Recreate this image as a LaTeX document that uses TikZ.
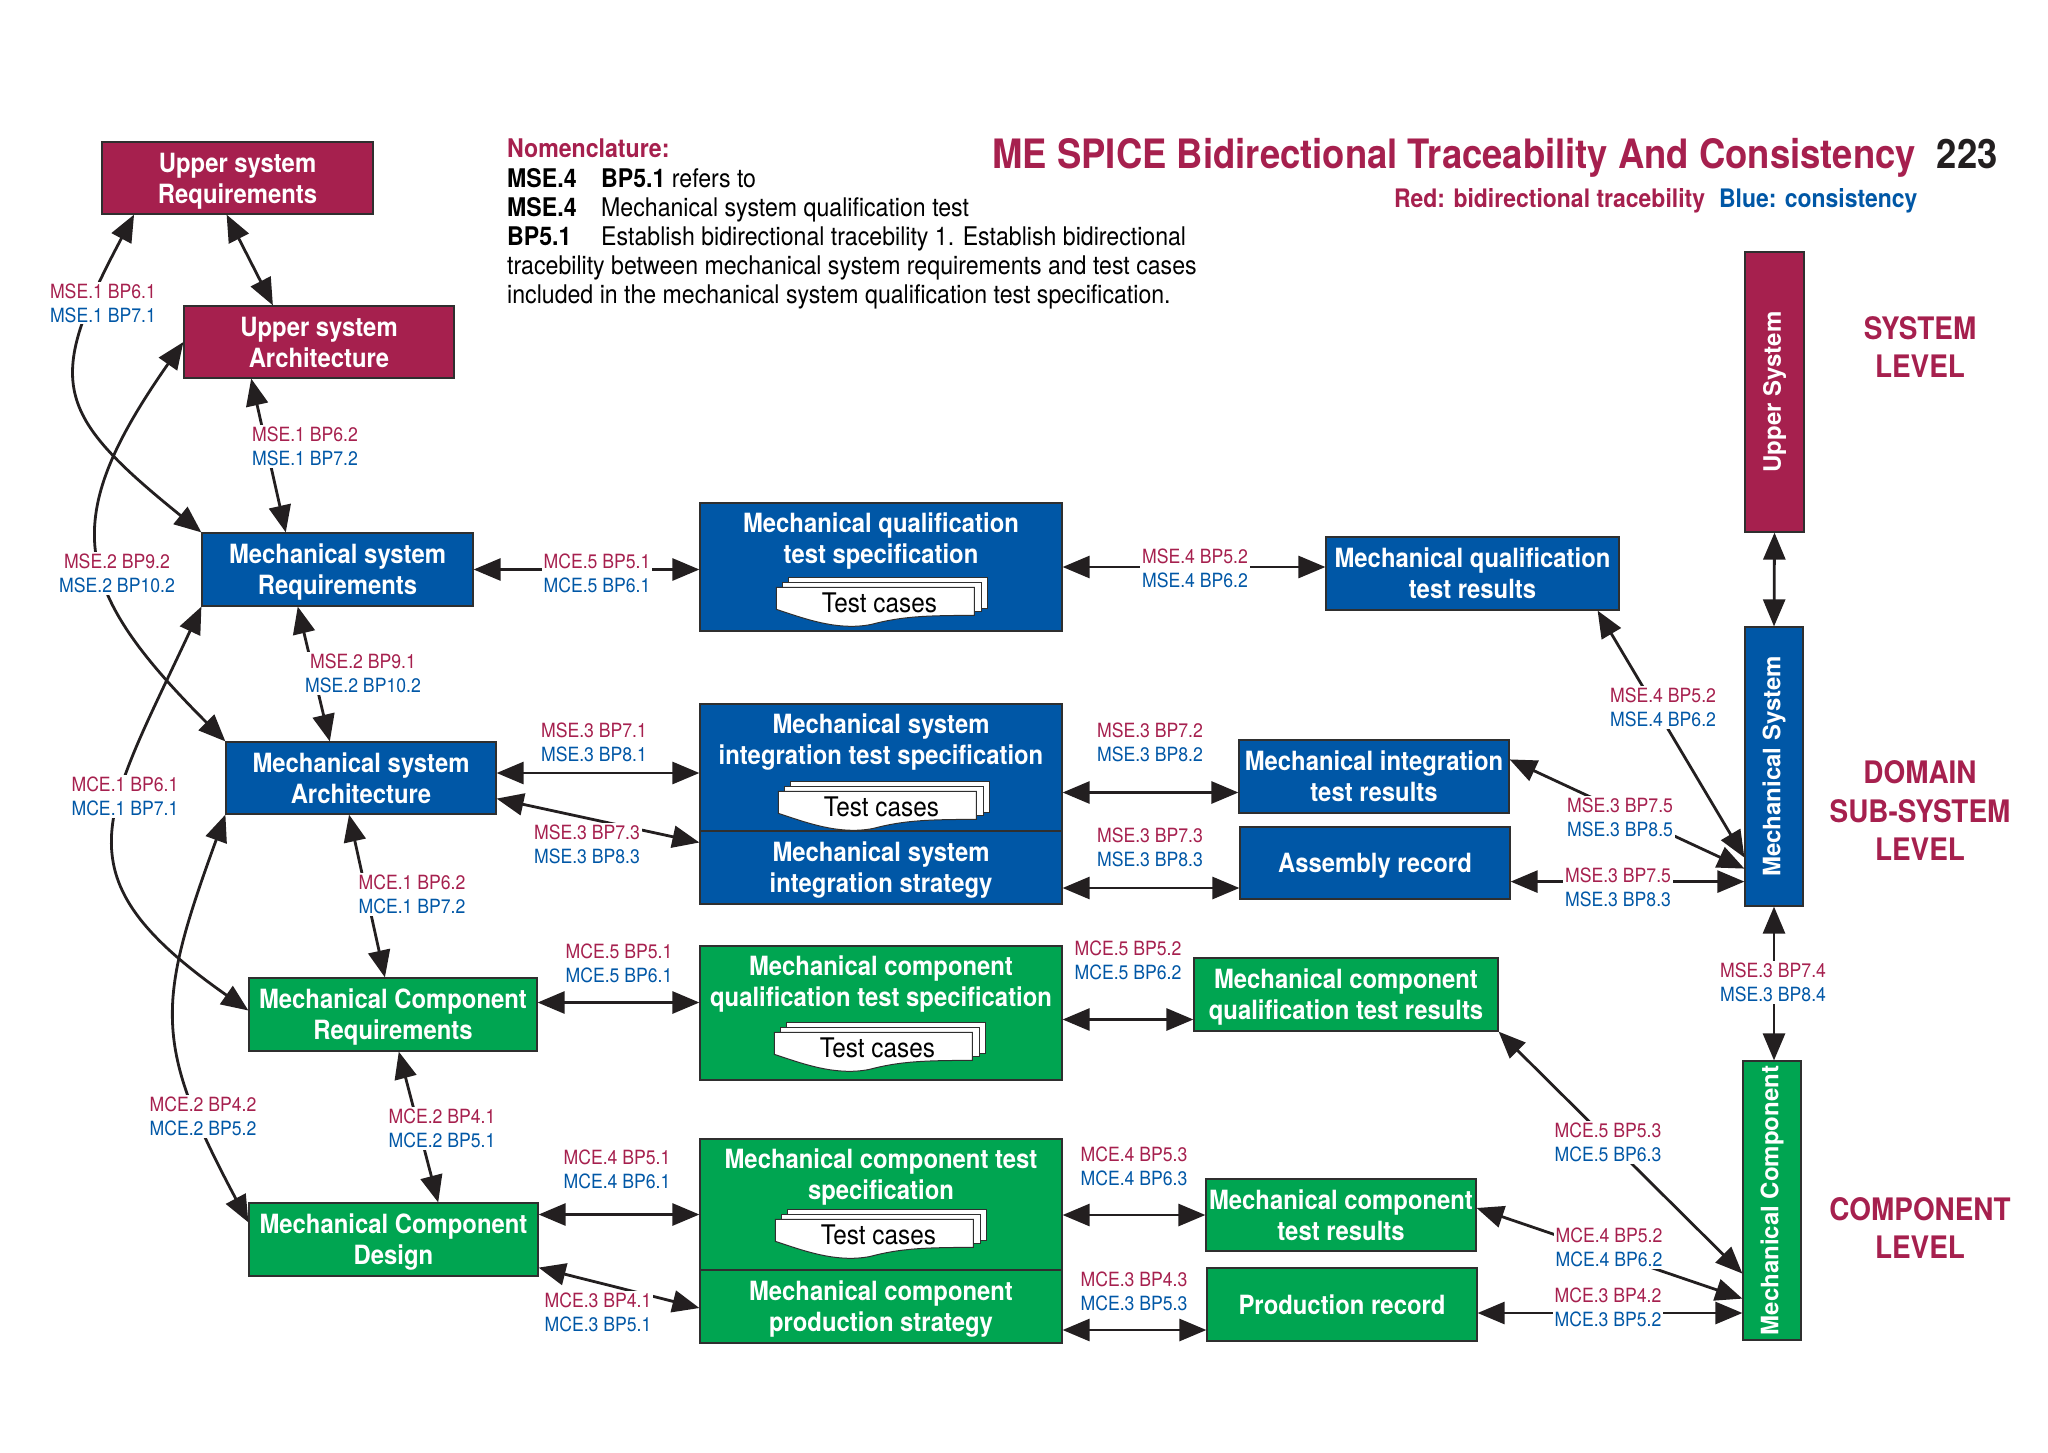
\documentclass[tikz,border=0pt]{standalone}
\usepackage{fontspec}
\setmainfont{TeX Gyre Heros}[FakeStretch=0.9]
\newfontfamily\barfont{TeX Gyre Heros}
\usetikzlibrary{arrows.meta, positioning, calc}
\definecolor{cred}{HTML}{A6204E}
\definecolor{cblue}{HTML}{0057A6}
\definecolor{cgreen}{HTML}{00A551}
\definecolor{cdark}{HTML}{231F20}
\definecolor{cline}{HTML}{2F2F2F}
\newcommand{\bplbl}[2]{\textcolor{cred}{#1}\\\textcolor{cblue}{#2}}
\tikzset{
  every picture/.style={x=1pt, y=-1pt},
  box/.style={draw=cline, fill=#1, line width=1.2pt, text=white, align=center, inner sep=0pt, text depth=0pt,
    font=\fontsize{26.5}{31}\selectfont\bfseries},
  box/.default=cblue,
  head/.style={anchor=north, text=white, align=center, inner sep=0pt, font=\fontsize{26.5}{31}\selectfont\bfseries},
  bartext/.style={rotate=90, text=white, inner sep=0pt, font=\barfont\fontsize{24}{28}\selectfont\bfseries},
  arrow/.style={{Triangle[length=27pt,width=22pt]}-{Triangle[length=27pt,width=22pt]}, draw=cdark, line width=2.8pt},
  lbl/.style={fill=white, inner sep=2pt, align=center, font=\fontsize{19.6}{24}\selectfont},
  level/.style={text=cred, align=center, font=\fontsize{31}{38.5}\selectfont\bfseries},
  page/.style={draw=cline, fill=white, line width=1pt},
  testcases/.pic={
    \draw[page] (12,-10) rectangle (211,21);
    \draw[page] (6,-5) rectangle (205,24);
    \draw[page] (0,0) -- (198,0) -- (198,28) .. controls (150,28) and (125,29) .. (95,37)
      .. controls (60,44) and (25,30) .. (0,22) -- cycle;
    \node[font=\fontsize{27}{30}\selectfont, text=black, inner sep=0pt] (-txt) at (103,15) {Test cases};
  },
}

\begin{document}
\begin{tikzpicture}
  \useasboundingbox (0,0) rectangle (2048,1453);
  % heading and nomenclature
  \node[anchor=base west, text=cred, font=\fontsize{40.5}{48}\selectfont\bfseries] (title) at (989,168)
    {ME SPICE Bidirectional Traceability And Consistency};
  \node[anchor=base west, text=cdark, font=\fontsize{40.5}{48}\selectfont\bfseries] (pageno) at ($(title.base east)+(14,0)$) {223};
  \node[anchor=base east, font=\fontsize{25.5}{30}\selectfont\bfseries] (legend) at (1921,207)
    {\textcolor{cred}{Red: bidirectional tracebility}\hspace{14pt}\textcolor{cblue}{Blue: consistency}};
  \node[anchor=north west, align=left, inner sep=0pt, font=\fontsize{25.7}{29.2}\selectfont] (nom) at (507,139)
    {\textcolor{cred}{\bfseries Nomenclature:}\\
     \makebox[94pt][l]{\bfseries MSE.4}\textbf{BP5.1} refers to\\
     \makebox[94pt][l]{\bfseries MSE.4}Mechanical system qualification test\\
     \makebox[94pt][l]{\bfseries BP5.1}Establish bidirectional tracebility 1. Establish bidirectional\\
     tracebility between mechanical system requirements and test cases\\
     included in the mechanical system qualification test specification.};

  % left column
  \node[box=cred, minimum width=271pt, minimum height=72pt] (usr) at (237.5,178) {Upper system\\Requirements};
  \node[box=cred, minimum width=270pt, minimum height=72pt] (usa) at (319,342) {Upper system\\Architecture};
  \node[box, minimum width=271pt, minimum height=73pt] (msr) at (337.5,569.5) {Mechanical system\\Requirements};
  \node[box, minimum width=270pt, minimum height=72pt] (msa) at (361,778) {Mechanical system\\Architecture};
  \node[box=cgreen, minimum width=288pt, minimum height=73pt] (mcr) at (393,1014.5) {Mechanical Component\\Requirements};
  \node[box=cgreen, minimum width=289pt, minimum height=73pt] (mcd) at (393.5,1239.5) {Mechanical Component\\Design};

  % middle column
  \node[box, minimum width=362pt, minimum height=128pt] (mqts) at (881,567) {};
  \node[head] (mqts-t) at ($(mqts.north)+(0,10)$) {Mechanical qualification\\test specification};
  \pic (mqts-c) at ($(mqts.north west)+(77,85)$) {testcases};
  \node[box, minimum width=362pt, minimum height=127pt] (msits) at (881,767.5) {};
  \node[head] (msits-t) at ($(msits.north)+(0,10)$) {Mechanical system\\integration test specification};
  \pic (msits-c) at ($(msits.north west)+(79,88)$) {testcases};
  \node[box, minimum width=362pt, minimum height=73pt] (msis) at (881,867.5) {Mechanical system\\integration strategy};
  \node[box=cgreen, minimum width=362pt, minimum height=134pt] (mcqts) at (881,1013) {};
  \node[head] (mcqts-t) at ($(mcqts.north)+(0,10)$) {Mechanical component\\qualification test specification};
  \pic (mcqts-c) at ($(mcqts.north west)+(75,87)$) {testcases};
  \node[box=cgreen, minimum width=362pt, minimum height=131pt] (mcts) at (881,1204.5) {};
  \node[head] (mcts-t) at ($(mcts.north)+(0,10)$) {Mechanical component test\\specification};
  \pic (mcts-c) at ($(mcts.north west)+(76,81)$) {testcases};
  \node[box=cgreen, minimum width=362pt, minimum height=73pt] (mcps) at (881,1306.5) {Mechanical component\\production strategy};

  % right column
  \node[box, minimum width=293pt, minimum height=73pt] (mqtr) at (1472.5,573.5) {Mechanical qualification\\test results};
  \node[box, minimum width=270pt, minimum height=73pt] (mir) at (1374,776.5) {Mechanical integration\\test results};
  \node[box, minimum width=270pt, minimum height=72pt] (ar) at (1375,863) {Assembly record};
  \node[box=cgreen, minimum width=304pt, minimum height=73pt] (mcqtr) at (1346,994.5) {Mechanical component\\qualification test results};
  \node[box=cgreen, minimum width=270pt, minimum height=72pt] (mctr) at (1341,1215) {Mechanical component\\test results};
  \node[box=cgreen, minimum width=270pt, minimum height=73pt] (pr) at (1342,1304.5) {Production record};

  % level bars
  \node[box=cred, minimum width=59pt, minimum height=280pt] (usys) at (1774.5,392) {};
  \node[bartext] (usys-t) at (usys) {Upper System};
  \node[box, minimum width=58pt, minimum height=279pt] (msys) at (1774,766.5) {};
  \node[bartext] (msys-t) at (msys) {Mechanical System};
  \node[box=cgreen, minimum width=58pt, minimum height=279pt] (mcomp) at (1772,1200.5) {};
  \node[bartext] (mcomp-t) at (mcomp) {Mechanical Component};
  \node[level] (lv-sys) at (1920,347) {SYSTEM\\LEVEL};
  \node[level] (lv-dom) at (1920,811) {DOMAIN\\SUB-SYSTEM\\LEVEL};
  \node[level] (lv-comp) at (1920,1228) {COMPONENT\\LEVEL};

  % connector ends off the box centres
  \coordinate (e-msa) at ($(msa.east)+(0,-5)$);
  \coordinate (e-mir) at ($(mir.west)+(0,16)$);
  \coordinate (e-ar) at ($(ar.west)+(0,25)$);
  \coordinate (e-ar2) at ($(ar.south east)+(0,-18)$);
  \coordinate (e-mcr) at ($(mcr.east)+(0,-12)$);
  \coordinate (e-mcqtr) at ($(mcqtr.west)+(0,25)$);
  \coordinate (e-mcd) at ($(mcd.east)+(0,-25)$);
  \coordinate (e-pr) at ($(pr.west)+(0,25.5)$);
  \coordinate (e-pr2) at ($(pr.east)+(0,8.5)$);

  % connectors
  \draw[arrow] ($(usr.south west)!0.46!(usr.south east)$) -- ($(usa.north west)!0.33!(usa.north east)$);
  \draw[arrow] ($(usr.south west)!0.12!(usr.south east)$) to[out=-118, in=141, looseness=1.5] (msr.north west);
  \draw[arrow] (usa.west) to[out=-125, in=135, looseness=1.39] (msa.north west);
  \draw[arrow] ($(usa.south west)!0.25!(usa.south east)$) -- ($(msr.north west)!0.31!(msr.north east)$);
  \draw[arrow] ($(msr.south west)!0.354!(msr.south east)$) -- ($(msa.north west)!0.385!(msa.north east)$);
  \draw[arrow] (msr.south west) to[out=-115, in=145, looseness=1.48] ($(mcr.west)+(0,-4)$);
  \draw[arrow] (msa.south west) to[out=-110, in=118, looseness=1.27] ($(mcd.north west)+(0,20)$);
  \draw[arrow] ($(msa.south west)!0.456!(msa.south east)$) -- ($(mcr.north west)!0.472!(mcr.north east)$);
  \draw[arrow] ($(mcr.south west)!0.52!(mcr.south east)$) -- ($(mcd.north west)!0.654!(mcd.north east)$);
  \draw[arrow] (msr.east) -- (msr.east -| mqts.west);
  \draw[arrow] (mqts.east) -- (mqts.east -| mqtr.west);
  \draw[arrow] (e-msa) -- (e-msa -| msits.west);
  \draw[arrow] ($(msa.south east)+(0,-16)$) -- ($(msis.west)+(0,-25)$);
  \draw[arrow] (e-mir -| msits.east) -- (e-mir);
  \draw[arrow] (e-ar -| msis.east) -- (e-ar);
  \draw[arrow] (e-mcr) -- (e-mcr -| mcqts.west);
  \draw[arrow] (e-mcqtr -| mcqts.east) -- (e-mcqtr);
  \draw[arrow] (e-mcd) -- (e-mcd -| mcts.west);
  \draw[arrow] ($(mcd.south east)+(0,-9)$) -- ($(mcps.west)+(0,1.5)$);
  \draw[arrow] (mctr.west -| mcts.east) -- (mctr.west);
  \draw[arrow] (e-pr -| mcps.east) -- (e-pr);
  \draw[arrow] ($(mqtr.south east)+(-22,0)$) -- ($(msys.south west)+(0,-49)$);
  \draw[arrow] ($(mir.north east)+(0,20)$) -- ($(msys.south west)+(0,-38)$);
  \draw[arrow] (e-ar2) -- (e-ar2 -| msys.west);
  \draw[arrow] (usys.south) -- (msys.north);
  \draw[arrow] (msys.south) -- (msys.south |- mcomp.north);
  \draw[arrow] (mcqtr.south east) -- ($(mcomp.south west)+(0,-67)$);
  \draw[arrow] ($(mctr.east)+(0,-7)$) -- ($(mcomp.south west)+(0,-42)$);
  \draw[arrow] (e-pr2) -- (e-pr2 -| mcomp.west);

  % connector labels
  \node[lbl] (l-usr-msr) at (103,303) {\bplbl{MSE.1 BP6.1}{MSE.1 BP7.1}};
  \node[lbl] (l-usa-msr) at (305,446) {\bplbl{MSE.1 BP6.2}{MSE.1 BP7.2}};
  \node[lbl] (l-usa-msa) at (117,573) {\bplbl{MSE.2 BP9.2}{MSE.2 BP10.2}};
  \node[lbl] (l-msr-mqts) at (597,573) {\bplbl{MCE.5 BP5.1}{MCE.5 BP6.1}};
  \node[lbl] (l-mqts-mqtr) at (1195,568) {\bplbl{MSE.4 BP5.2}{MSE.4 BP6.2}};
  \node[lbl] (l-msr-msa) at (363,673) {\bplbl{MSE.2 BP9.1}{MSE.2 BP10.2}};
  \node[lbl] (l-msa-msits) at (594,742) {\bplbl{MSE.3 BP7.1}{MSE.3 BP8.1}};
  \node[lbl] (l-msa-msis) at (587,844) {\bplbl{MSE.3 BP7.3}{MSE.3 BP8.3}};
  \node[lbl] (l-msits-mir) at (1150,742) {\bplbl{MSE.3 BP7.2}{MSE.3 BP8.2}};
  \node[lbl] (l-msis-ar) at (1150,847) {\bplbl{MSE.3 BP7.3}{MSE.3 BP8.3}};
  \node[lbl] (l-mqtr-msys) at (1663,707) {\bplbl{MSE.4 BP5.2}{MSE.4 BP6.2}};
  \node[lbl] (l-mir-msys) at (1620,817) {\bplbl{MSE.3 BP7.5}{MSE.3 BP8.5}};
  \node[lbl] (l-ar-msys) at (1618,887) {\bplbl{MSE.3 BP7.5}{MSE.3 BP8.3}};
  \node[lbl] (l-msr-mcr) at (125,796) {\bplbl{MCE.1 BP6.1}{MCE.1 BP7.1}};
  \node[lbl] (l-msa-mcr) at (412,894) {\bplbl{MCE.1 BP6.2}{MCE.1 BP7.2}};
  \node[lbl] (l-msys-mcomp) at (1773,982) {\bplbl{MSE.3 BP7.4}{MSE.3 BP8.4}};
  \node[lbl] (l-mcr-mcqts) at (619,963) {\bplbl{MCE.5 BP5.1}{MCE.5 BP6.1}};
  \node[lbl] (l-mcqts-mcqtr) at (1128,960) {\bplbl{MCE.5 BP5.2}{MCE.5 BP6.2}};
  \node[lbl] (l-mcr-mcd) at (442,1128) {\bplbl{MCE.2 BP4.1}{MCE.2 BP5.1}};
  \node[lbl] (l-msa-mcd) at (203,1116) {\bplbl{MCE.2 BP4.2}{MCE.2 BP5.2}};
  \node[lbl] (l-mcd-mcts) at (617,1169) {\bplbl{MCE.4 BP5.1}{MCE.4 BP6.1}};
  \node[lbl] (l-mcd-mcps) at (598,1312) {\bplbl{MCE.3 BP4.1}{MCE.3 BP5.1}};
  \node[lbl] (l-mcts-mctr) at (1134,1166) {\bplbl{MCE.4 BP5.3}{MCE.4 BP6.3}};
  \node[lbl] (l-mcps-pr) at (1134,1291) {\bplbl{MCE.3 BP4.3}{MCE.3 BP5.3}};
  \node[lbl] (l-mcqtr-mcomp) at (1608,1142) {\bplbl{MCE.5 BP5.3}{MCE.5 BP6.3}};
  \node[lbl] (l-mctr-mcomp) at (1609,1247) {\bplbl{MCE.4 BP5.2}{MCE.4 BP6.2}};
  \node[lbl] (l-pr-mcomp) at (1608,1307) {\bplbl{MCE.3 BP4.2}{MCE.3 BP5.2}};
\end{tikzpicture}
\end{document}
